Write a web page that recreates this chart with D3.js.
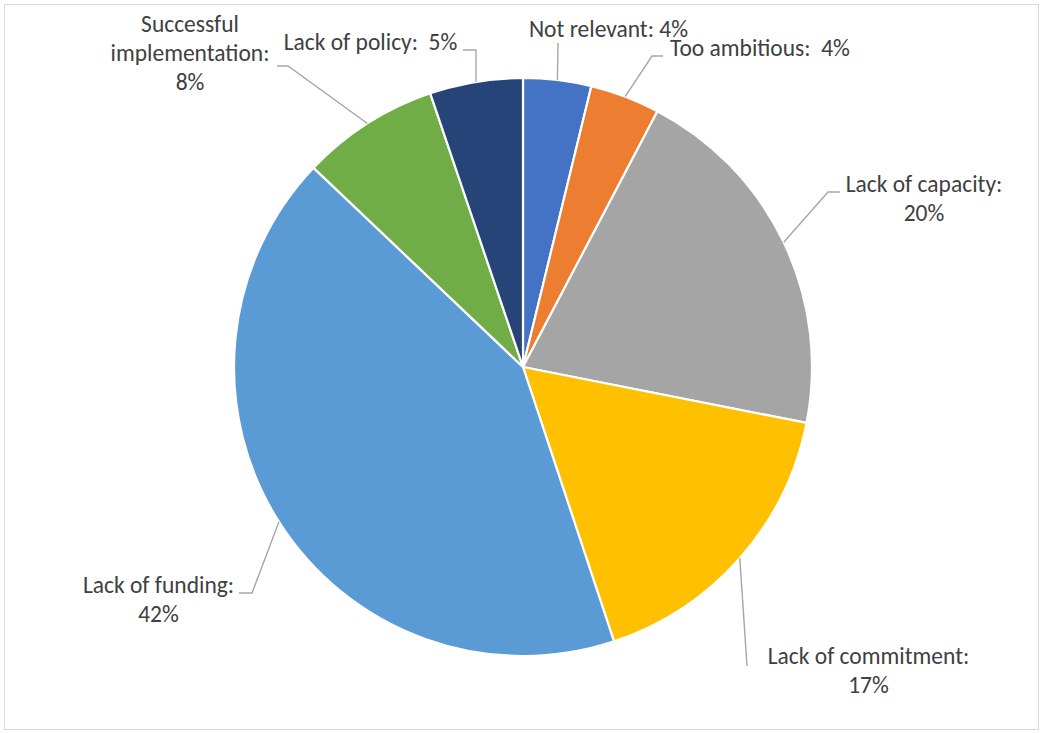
<!DOCTYPE html>
<html>
<head>
<meta charset="utf-8">
<script src="https://cdn.jsdelivr.net/npm/d3@7"></script>
<style>
  html, body { margin: 0; padding: 0; background: #fff; }
  svg { display: block; }
  text { font-family: Carlito, Calibri, Lato, "Open Sans", sans-serif; }
</style>
</head>
<body>
<svg id="chart" width="1043" height="733"></svg>
<script>
// ---- data ----
const categories = ["Not relevant", "Too ambitious", "Lack of capacity", "Lack of commitment",
                    "Lack of funding", "Successful implementation", "Lack of policy"];
// shares (%); labels show the rounded figures
const values = [3.8, 3.9, 20.4, 16.8, 42.2, 7.7, 5.2];
const labelText = [
  ["Not relevant: 4%"],
  ["Too ambitious:  4%"],
  ["Lack of capacity:", "20%"],
  ["Lack of commitment:", "17%"],
  ["Lack of funding:", "42%"],
  ["Successful", "implementation:", "8%"],
  ["Lack of policy:  5%"]
];
const colors = ["#4472C4", "#ED7D31", "#A5A5A5", "#FFC000", "#5B9BD5", "#70AD47", "#264478"];

// ---- layout (positions only) ----
const W = 1043, H = 733;
const cx = 523, cy = 367, R = 289;
// label: text centre x, first baseline y, leader points on the label side
const labelLayout = [
  { x: 608.5, y: 37,   pts: [[558, 43]] },
  { x: 760,   y: 56,   pts: [[663, 56], [652, 56]] },
  { x: 924,   y: 192,  pts: [[840, 192], [828, 192]] },
  { x: 868.5, y: 664,  pts: [[747, 666]] },
  { x: 158.5, y: 593,  pts: [[239, 593], [252, 593]] },
  { x: 190,   y: 31.5, pts: [[277, 66], [288, 66]] },
  { x: 370.5, y: 50,   pts: [[463, 50], [476, 50]] }
];
const lineH = 29;

const svg = d3.select("#chart");

// chart border
svg.append("rect")
  .attr("x", 4.5).attr("y", 4.5).attr("width", W - 9).attr("height", H - 8)
  .attr("fill", "#fff").attr("stroke", "#d9d9d9").attr("stroke-width", 1);

const pie = d3.pie().sort(null).value(d => d)(values);
const arc = d3.arc().innerRadius(0).outerRadius(R);

const g = svg.append("g").attr("transform", `translate(${cx},${cy})`);
g.selectAll("path.slice")
  .data(pie)
  .join("path")
  .attr("class", "slice")
  .attr("d", arc)
  .attr("fill", (d, i) => colors[i])
  .attr("stroke", "#fff")
  .attr("stroke-width", 2.2)
  .attr("stroke-linejoin", "round");

// leader lines: label side -> slice mid-angle on the rim
const line = d3.line();
pie.forEach((d, i) => {
  const L = labelLayout[i];
  const a = (d.startAngle + d.endAngle) / 2;
  const end = [cx + R * Math.sin(a), cy - R * Math.cos(a)];
  svg.append("path")
    .attr("d", line([...L.pts, end]))
    .attr("fill", "none")
    .attr("stroke", "#a6a6a6")
    .attr("stroke-width", 1.4);
});

// labels
labelText.forEach((lines, i) => {
  const L = labelLayout[i];
  const t = svg.append("text")
    .attr("text-anchor", "middle")
    .attr("fill", "#404040")
    .style("font-size", "23.5px");
  lines.forEach((s, k) => {
    t.append("tspan").attr("x", L.x).attr("y", L.y + k * lineH).text(s)
      .attr("xml:space", "preserve").style("white-space", "pre");
  });
});
</script>
</body>
</html>
